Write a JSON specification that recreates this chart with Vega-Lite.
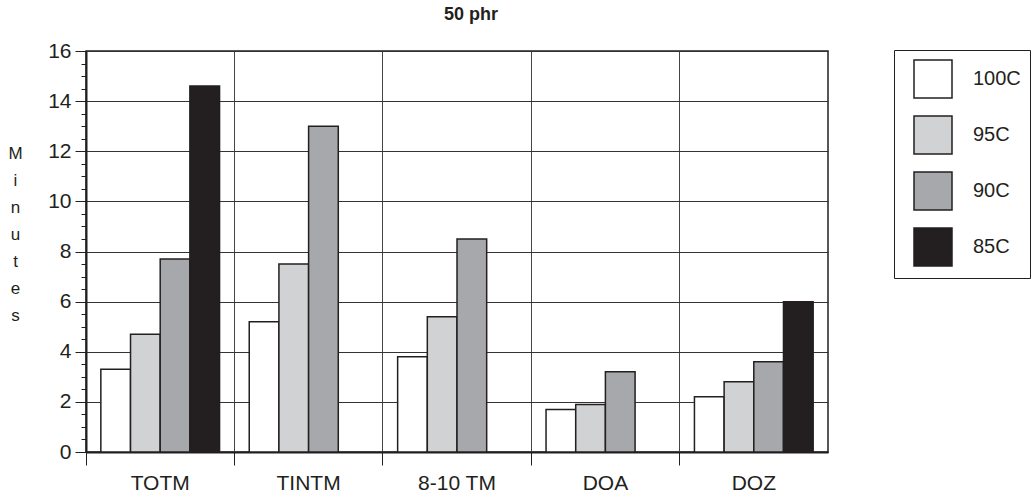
{
  "$schema": "https://vega.github.io/schema/vega-lite/v6.json",
  "autosize": "none",
  "width": 742,
  "height": 401,
  "padding": {"left": 86, "top": 51, "right": 206, "bottom": 45},
  "background": "white",
  "title": {"text": "50 phr", "font": "Liberation Sans", "fontSize": 18, "fontWeight": "bold", "color": "#231f20", "dx": 14, "offset": 16},
  "config": {"view": {"stroke": "#231f20", "strokeWidth": 1.5}, "font": "Liberation Sans"},
  "data": {"values": [
    {"cat": "TOTM", "temp": "100C", "value": 3.3},
    {"cat": "TOTM", "temp": "95C", "value": 4.7},
    {"cat": "TOTM", "temp": "90C", "value": 7.7},
    {"cat": "TOTM", "temp": "85C", "value": 14.6},
    {"cat": "TINTM", "temp": "100C", "value": 5.2},
    {"cat": "TINTM", "temp": "95C", "value": 7.5},
    {"cat": "TINTM", "temp": "90C", "value": 13.0},
    {"cat": "8-10 TM", "temp": "100C", "value": 3.8},
    {"cat": "8-10 TM", "temp": "95C", "value": 5.4},
    {"cat": "8-10 TM", "temp": "90C", "value": 8.5},
    {"cat": "DOA", "temp": "100C", "value": 1.7},
    {"cat": "DOA", "temp": "95C", "value": 1.9},
    {"cat": "DOA", "temp": "90C", "value": 3.2},
    {"cat": "DOZ", "temp": "100C", "value": 2.2},
    {"cat": "DOZ", "temp": "95C", "value": 2.8},
    {"cat": "DOZ", "temp": "90C", "value": 3.6},
    {"cat": "DOZ", "temp": "85C", "value": 6.0}
  ]},
  "mark": {"type": "bar", "stroke": "#231f20", "strokeWidth": 1.5},
  "encoding": {
    "x": {
      "field": "cat", "type": "nominal",
      "sort": ["TOTM", "TINTM", "8-10 TM", "DOA", "DOZ"],
      "scale": {"paddingInner": 0, "paddingOuter": 0},
      "axis": {
        "title": null, "bandPosition": 0, "labelAngle": 0,
        "labelFontSize": 21, "labelColor": "#231f20", "labelPadding": 7,
        "tickSize": 13, "tickColor": "#231f20", "tickWidth": 1,
        "grid": true, "gridColor": "#444444", "gridWidth": 1,
        "domainColor": "#231f20", "domainWidth": 2
      }
    },
    "xOffset": {
      "field": "temp", "type": "nominal",
      "sort": ["100C", "95C", "90C", "85C"],
      "scale": {"paddingInner": 0, "paddingOuter": 0.5}
    },
    "y": {
      "field": "value", "type": "quantitative",
      "scale": {"domain": [0, 16], "nice": false},
      "axis": {
        "values": [0, 0.5, 1, 1.5, 2, 2.5, 3, 3.5, 4, 4.5, 5, 5.5, 6, 6.5, 7, 7.5, 8, 8.5, 9, 9.5, 10, 10.5, 11, 11.5, 12, 12.5, 13, 13.5, 14, 14.5, 15, 15.5, 16],
        "labelExpr": "datum.value % 2 == 0 ? format(datum.value, 'd') : ''",
        "labelOverlap": false, "labelBound": false,
        "labelFontSize": 21, "labelColor": "#231f20", "labelPadding": 4,
        "tickSize": {"condition": {"test": "datum.value % 2 == 0", "value": 11}, "value": 5},
        "tickColor": "#231f20", "tickWidth": 1,
        "grid": true, "gridColor": "#333333", "gridWidth": 1,
        "gridOpacity": {"condition": {"test": "datum.value % 2 == 0", "value": 1}, "value": 0},
        "domainColor": "#231f20", "domainWidth": 2,
        "title": ["M", "i", "n", "u", "t", "e", "s"],
        "titleAngle": 0, "titleFontSize": 17, "titleFontWeight": "normal", "titleColor": "#231f20",
        "titleLineHeight": 27, "titleX": -71, "titleY": 94, "titleAlign": "center", "titleBaseline": "top"
      }
    },
    "fill": {
      "field": "temp", "type": "nominal",
      "sort": ["100C", "95C", "90C", "85C"],
      "scale": {"domain": ["100C", "95C", "90C", "85C"], "range": ["#ffffff", "#d1d2d4", "#a7a8ab", "#231f20"]},
      "legend": {
        "title": null, "orient": "none", "legendX": 808, "legendY": -1,
        "strokeColor": "#231f20", "fillColor": "white", "padding": 9,
        "symbolType": "square", "symbolSize": 1444, "symbolStrokeColor": "#231f20", "symbolStrokeWidth": 1.5,
        "symbolOffset": 10, "symbolOpacity": 1, "rowPadding": 12,
        "labelFontSize": 20, "labelOffset": 20, "labelColor": "#231f20", "labelFont": "Liberation Sans"
      }
    }
  }
}
